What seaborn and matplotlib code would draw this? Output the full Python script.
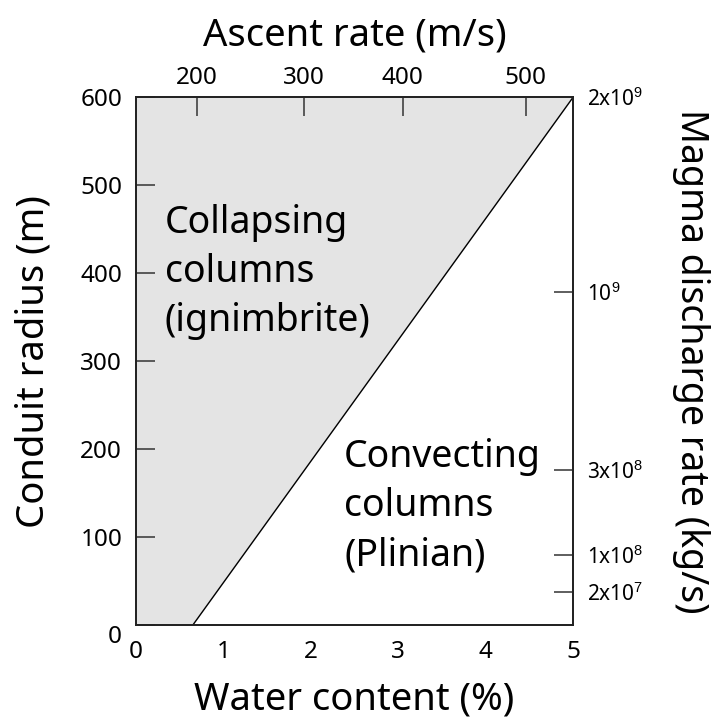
import matplotlib
matplotlib.use("Agg")
import matplotlib.pyplot as plt
import seaborn as sns
import pandas as pd

# Regime boundary between collapsing and convecting eruption columns
boundary_water = [0.65, 5.0]      # water content (%)
boundary_radius = [0, 600]        # conduit radius (m)

# Bottom / left axes
water_ticks = [0, 1, 2, 3, 4, 5]
radius_ticks = [0, 100, 200, 300, 400, 500, 600]

# Top axis: ascent rate (m/s) placed at the corresponding water content
ascent_labels = ["200", "300", "400", "500"]
ascent_pos_water = [0.70, 1.92, 3.05, 4.46]

# Right axis: magma discharge rate (kg/s) placed at the corresponding radius
discharge_labels = [r"2x10$^{\mathrm{9}}$", r"10$^{\mathrm{9}}$", r"3x10$^{\mathrm{8}}$",
                    r"1x10$^{\mathrm{8}}$", r"2x10$^{\mathrm{7}}$"]
discharge_pos_radius = [600, 378, 176, 80, 37]

sns.set_theme(style="white")
plt.rcParams["font.family"] = ["Noto Sans", "DejaVu Sans"]
plt.rcParams["mathtext.fontset"] = "custom"
plt.rcParams["mathtext.rm"] = "Liberation Sans"
for key in ("text.color", "axes.labelcolor", "xtick.color", "ytick.color"):
    plt.rcParams[key] = "black"

fig = plt.figure(figsize=(7.2, 7.2), dpi=100)
ax = fig.add_axes([0.189, 0.132, 0.607, 0.733])

df = pd.DataFrame({"water": boundary_water, "radius": boundary_radius})

# Shaded collapsing-column field (left of the boundary)
ax.fill_betweenx(df["radius"], 0, df["water"], color="#e4e4e4", lw=0, zorder=0)
sns.lineplot(data=df, x="water", y="radius", color="black", lw=1.0, ax=ax,
             zorder=2, sort=False)

ax.set_xlim(0, 5)
ax.set_ylim(0, 600)
ax.set_xticks(water_ticks)
ax.set_yticks(radius_ticks)
ax.set_xticklabels([str(v) for v in water_ticks], fontsize=17.5)
ax.set_yticklabels([str(v) for v in radius_ticks], fontsize=17.5)
ax.tick_params(axis="x", length=0, pad=11)
ax.tick_params(axis="y", direction="in", length=14, width=1.1, color="#333333", pad=10)
for lab in ax.get_yticklabels():
    if lab.get_text() == "0":
        lab.set_va("top")
ax.set_xlabel("Water content (%)", fontsize=27.5, labelpad=12)
ax.set_ylabel("Conduit radius (m)", fontsize=27.5, labelpad=20)

for sp in ax.spines.values():
    sp.set_color("#222222")
    sp.set_linewidth(1.1)

# Top axis
axt = ax.twiny()
axt.set_xlim(ax.get_xlim())
axt.set_xticks(ascent_pos_water)
axt.set_xticklabels(ascent_labels, fontsize=17.5)
axt.tick_params(axis="x", direction="in", length=14, width=1.1, color="#333333", pad=5)
axt.set_xlabel("Ascent rate (m/s)", fontsize=27.5, labelpad=15)

# Right axis
axr = ax.twinx()
axr.set_ylim(ax.get_ylim())
axr.set_yticks(discharge_pos_radius)
axr.set_yticklabels(discharge_labels, fontsize=15)
axr.tick_params(axis="y", direction="in", length=14, width=1.1, color="#333333", pad=10)
axr.set_ylabel("Magma discharge rate (kg/s)", fontsize=27, rotation=270, labelpad=48)
axr.get_yticklines()[0].set_visible(False)
axr.get_yticklines()[1].set_visible(False)

for a in (axt, axr):
    for sp in a.spines.values():
        sp.set_color("#222222")
        sp.set_linewidth(1.1)

# Regime labels
ax.text(0.33, 401, "Collapsing\ncolumns\n(ignimbrite)", fontsize=27,
        ha="left", va="center", linespacing=1.38)
ax.text(2.38, 135, "Convecting\ncolumns\n(Plinian)", fontsize=27,
        ha="left", va="center", linespacing=1.38)

fig.savefig("out.png", dpi=100)
